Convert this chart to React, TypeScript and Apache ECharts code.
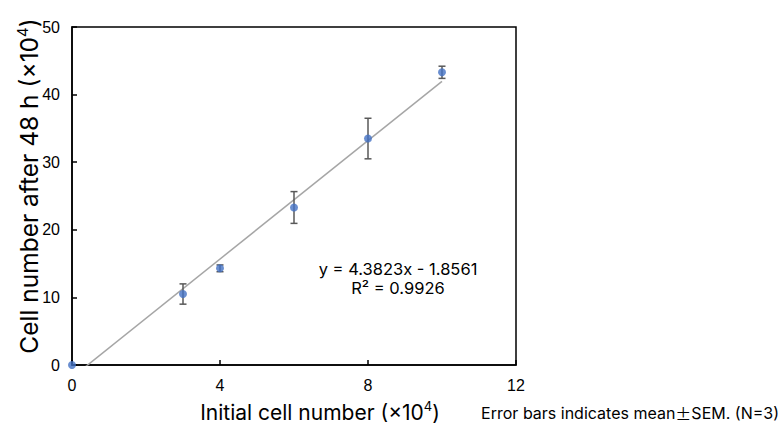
import React, { useEffect, useRef } from "react";
import * as echarts from "echarts";

const xValues = [0, 3, 4, 6, 8, 10];
const yValues = [0, 10.5, 14.3, 23.3, 33.5, 43.3];
const semValues = [0, 1.5, 0.5, 2.35, 3.0, 0.9];
const xTicks = [0, 4, 8, 12];
const yTicks = [0, 10, 20, 30, 40, 50];
const slope = 4.3823;
const intercept = -1.8561;
const rSquared = 0.9926;
const trendX = [0, 10];
const xTitleParts = ["Initial cell number (×10", "4", ")"];
const yTitleParts = ["Cell number after 48 h (×10", "4", ")"];
const footnoteParts = ["Error bars indicates mean", "±", "SEM. (N=3)"];

const FONT = "'Liberation Sans', Arial, Helvetica, sans-serif";
const WIDE = "Inter, 'Liberation Sans', sans-serif";
const CJK = "'Noto Sans CJK JP', 'DejaVu Sans', sans-serif";

export default function App() {
  const ref = useRef<HTMLDivElement>(null);
  useEffect(() => {
    if (!ref.current) return;
    const chart = echarts.init(ref.current, undefined, { renderer: "svg" });
    const points = xValues.map((x, i) => [x, yValues[i]]);
    const errData = xValues.map((x, i) => [x, yValues[i], semValues[i]]);
    const trend = trendX.map((x) => [x, slope * x + intercept]);
    const titleText = (p: string[]) => `{base|${p[0]}}{sup|${p[1]}}{base|${p[2]}}`;
    const supRich = (size: number, supSize: number, lh: number) => ({
      base: { fontSize: size, fontFamily: WIDE, lineHeight: lh, fill: "#000" },
      sup: { fontSize: supSize, verticalAlign: "top", lineHeight: supSize, fontFamily: WIDE, fill: "#000" },
    });
    chart.setOption({
      animation: false,
      backgroundColor: "#fff",
      textStyle: { fontFamily: FONT },
      grid: {
        left: 72,
        top: 27,
        width: 444,
        height: 338,
        show: true,
        borderColor: "#000",
        borderWidth: 1.5,
        backgroundColor: "transparent",
      },
      xAxis: {
        type: "value",
        min: xTicks[0],
        max: xTicks[xTicks.length - 1],
        interval: 4,
        axisLine: { show: true, onZero: false, lineStyle: { color: "#000", width: 1.5 } },
        axisTick: { show: true, inside: true, length: 5, lineStyle: { color: "#000", width: 1.5 } },
        axisLabel: { color: "#000", fontSize: 16, margin: 12, fontFamily: FONT },
        splitLine: { show: false },
      },
      yAxis: {
        type: "value",
        min: yTicks[0],
        max: yTicks[yTicks.length - 1],
        interval: 10,
        axisLine: { show: true, onZero: false, lineStyle: { color: "#000", width: 1.5 } },
        axisTick: { show: true, inside: true, length: 5, lineStyle: { color: "#000", width: 1.5 } },
        axisLabel: { color: "#000", fontSize: 16, margin: 12, fontFamily: FONT },
        splitLine: { show: false },
      },
      series: [
        {
          type: "line",
          data: trend,
          symbol: "none",
          clip: true,
          lineStyle: { color: "#a6a6a6", width: 1.5 },
          z: 1,
        },
        {
          type: "custom",
          data: errData,
          clip: false,
          z: 2,
          renderItem: (params: any, api: any) => {
            const x = api.value(0);
            const y = api.value(1);
            const e = api.value(2);
            if (!e) return { type: "group", children: [] };
            const top = api.coord([x, y + e]);
            const bot = api.coord([x, y - e]);
            const hw = 3.5;
            const style = { stroke: "#595959", lineWidth: 1.5 };
            return {
              type: "group",
              children: [
                { type: "line", shape: { x1: top[0], y1: top[1], x2: bot[0], y2: bot[1] }, style },
                { type: "line", shape: { x1: top[0] - hw, y1: top[1], x2: top[0] + hw, y2: top[1] }, style },
                { type: "line", shape: { x1: bot[0] - hw, y1: bot[1], x2: bot[0] + hw, y2: bot[1] }, style },
              ],
            };
          },
        },
        {
          type: "scatter",
          data: points,
          symbol: "circle",
          symbolSize: 8,
          clip: false,
          itemStyle: { color: "#4472c4" },
          z: 3,
        },
      ],
      graphic: [
        {
          type: "text",
          x: 29,
          y: 186,
          rotation: Math.PI / 2,
          style: {
            text: titleText(yTitleParts),
            font: `24.5px ${WIDE}`,
            fill: "#000",
            align: "center",
            verticalAlign: "middle",
            rich: supRich(24.5, 15, 29),
          },
        },
        {
          type: "text",
          x: 320,
          y: 412,
          style: {
            text: titleText(xTitleParts),
            font: `21px ${WIDE}`,
            fill: "#000",
            align: "center",
            verticalAlign: "middle",
            rich: supRich(21, 13, 25),
          },
        },
        {
          type: "text",
          x: 779,
          y: 413,
          style: {
            text: `{a|${footnoteParts[0]}}{pm|${footnoteParts[1]}}{a|${footnoteParts[2]}}`,
            font: `16px ${WIDE}`,
            fill: "#000",
            align: "right",
            verticalAlign: "middle",
            rich: {
              a: { fontSize: 16, fontFamily: WIDE, fill: "#000" },
              pm: { fontSize: 16, fontFamily: CJK, fill: "#000" },
            },
          },
        },
        {
          type: "text",
          x: 398,
          y: 269,
          style: {
            text: `y = ${slope}x - ${Math.abs(intercept)}`,
            font: `16.5px ${WIDE}`,
            fill: "#000",
            align: "center",
            verticalAlign: "middle",
          },
        },
        {
          type: "text",
          x: 398,
          y: 288,
          style: {
            text: `R² = ${rSquared}`,
            font: `16.5px ${WIDE}`,
            fill: "#000",
            align: "center",
            verticalAlign: "middle",
          },
        },
      ],
    });
    return () => chart.dispose();
  }, []);
  return (
    <div
      ref={ref}
      style={{ position: "fixed", left: 0, top: 0, width: 782, height: 430, background: "#fff" }}
    />
  );
}
